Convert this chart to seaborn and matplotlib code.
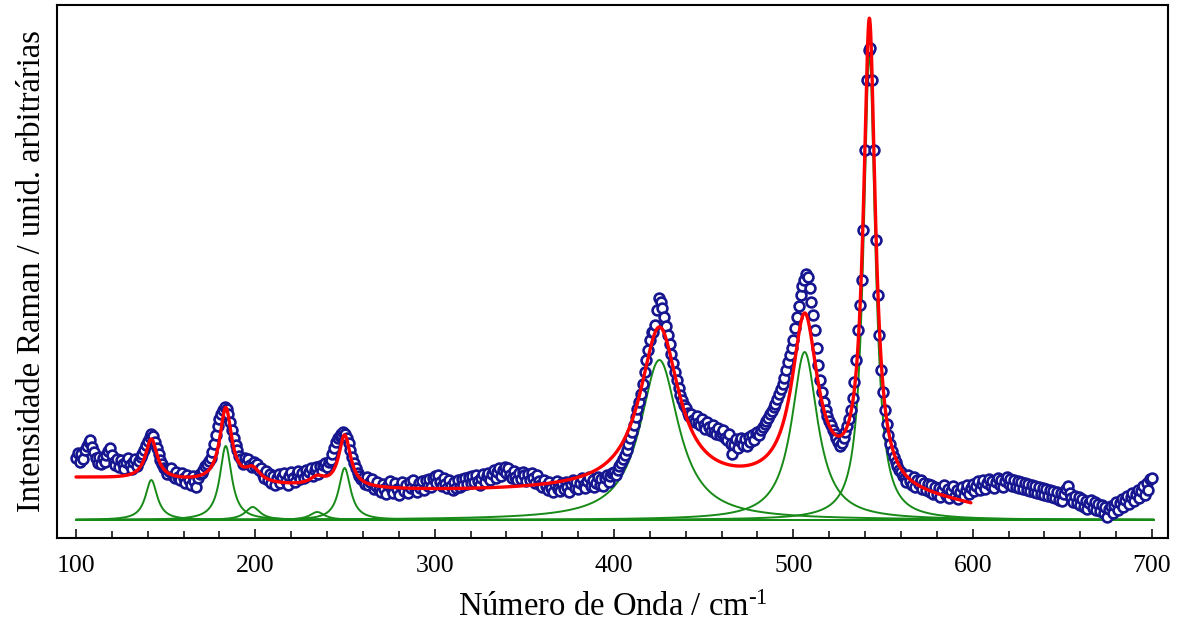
import numpy as np
import pandas as pd
import matplotlib
matplotlib.use("Agg")
import matplotlib.pyplot as plt
import seaborn as sns
from matplotlib.ticker import MultipleLocator

# ---- measured Raman spectrum (1 cm-1 steps, arbitrary units) ----
intensity_100s = [
    62, 67, 58, 66, 61, 70, 74, 78, 80, 73,
    68, 62, 57, 63, 56, 62, 58, 65, 69, 72,
    65, 58, 55, 61, 53, 60, 56, 51, 58, 62,
    55, 51, 58, 61, 54, 59, 63, 66, 70, 75,
    79, 83, 86, 84, 78, 72, 66, 60, 56, 52,
    50, 46, 49, 52, 44, 42, 48, 43, 40, 47,
    42, 37, 45, 40, 35, 44, 39, 33, 42, 46,
    47, 50, 54, 56, 59, 62, 68, 76, 85, 94,
    101, 106, 110, 113, 111, 106, 98, 90, 82, 75,
    70, 64, 61, 56, 62, 57, 61, 55, 53, 58,
]
intensity_200s = [
    54, 56, 50, 52, 45, 42, 49, 40, 46, 37,
    44, 35, 42, 46, 37, 43, 47, 39, 35, 44,
    48, 42, 38, 46, 49, 41, 47, 42, 50, 44,
    48, 52, 44, 50, 53, 46, 54, 49, 55, 57,
    53, 58, 60, 66, 72, 78, 82, 84, 86, 88,
    86, 82, 77, 70, 63, 57, 52, 47, 44, 41,
    42, 36, 43, 35, 38, 41, 31, 34, 38, 30,
    28, 36, 31, 26, 35, 39, 30, 27, 37, 31,
    25, 34, 38, 29, 35, 27, 38, 32, 40, 31,
    28, 37, 32, 39, 30, 40, 34, 41, 33, 42,
]
intensity_300s = [
    44, 37, 45, 38, 34, 42, 36, 32, 40, 34,
    30, 38, 32, 40, 33, 41, 35, 42, 36, 43,
    37, 44, 38, 45, 39, 35, 42, 46, 38, 44,
    47, 40, 46, 50, 42, 48, 52, 44, 50, 53,
    47, 52, 45, 42, 49, 43, 40, 47, 41, 48,
    45, 39, 46, 40, 47, 42, 37, 45, 39, 35,
    33, 40, 34, 30, 38, 32, 28, 36, 39, 31,
    29, 37, 31, 38, 33, 28, 36, 40, 32, 38,
    31, 37, 42, 35, 32, 39, 43, 34, 40, 33,
    37, 43, 35, 41, 34, 42, 45, 38, 44, 47,
]
intensity_400s = [
    48, 45, 50, 54, 57, 61, 65, 70, 76, 82,
    88, 95, 103, 111, 118, 126, 136, 148, 160, 170,
    180, 188, 188, 195, 210, 222, 218, 212, 203, 194,
    185, 176, 166, 157, 148, 140, 132, 125, 120, 115,
    112, 107, 104, 106, 100, 98, 104, 97, 95, 101,
    95, 91, 98, 93, 89, 95, 88, 86, 92, 85,
    87, 90, 82, 80, 86, 76, 66, 75, 81, 72,
    79, 82, 75, 81, 74, 83, 78, 85, 80, 87,
    88, 85, 90, 93, 96, 99, 102, 106, 109, 113,
    116, 121, 126, 131, 136, 142, 150, 158, 165, 172,
]
intensity_500s = [
    180, 192, 203, 214, 225, 234, 240, 246, 243, 232,
    218, 205, 190, 172, 155, 140, 128, 118, 110, 104,
    99, 95, 90, 86, 82, 78, 74, 77, 82, 88,
    94, 101, 110, 122, 138, 160, 190, 215, 240, 290,
    370, 440, 470, 472, 440, 370, 280, 225, 185, 150,
    128, 110, 96, 85, 76, 69, 63, 58, 54, 50,
    48, 44, 42, 38, 45, 39, 35, 43, 33, 40,
    36, 40, 31, 37, 30, 36, 28, 35, 26, 33,
    26, 32, 23, 30, 35, 25, 31, 22, 29, 34,
    24, 30, 21, 28, 33, 24, 30, 35, 26, 32,
]
intensity_600s = [
    36, 29, 34, 39, 30, 36, 40, 31, 37, 41,
    34, 39, 32, 38, 42, 35, 40, 33, 39, 43,
    36, 41, 34, 40, 33, 39, 32, 38, 31, 37,
    30, 36, 29, 35, 28, 34, 27, 33, 26, 32,
    25, 31, 24, 30, 23, 29, 22, 28, 20, 27,
    19, 26, 31, 34, 27, 22, 18, 24, 17, 23,
    15, 21, 13, 19, 11, 17, 20, 12, 18, 10,
    16, 9, 15, 7, 13, 3, 11, 14, 7, 15,
    18, 10, 17, 21, 13, 20, 24, 16, 23, 27,
    19, 26, 30, 22, 29, 34, 25, 37, 30, 41,
    42,
]
segment_starts = [100, 200, 300, 400, 500, 600]

# ---- fitted Lorentzian components ----
peak_centers = [142.0, 183.5, 198.5, 234.5, 249.8, 425.3, 506.3, 542.4]
peak_heights = [40, 74, 13, 8, 52, 160, 168, 465]
peak_fwhm = [8.0, 8.0, 10.0, 10.0, 8.0, 26.0, 17.5, 8.0]

# ---- fitted background (anchor values) ----
baseline_x = [100, 150, 200, 250, 300, 350, 400, 450, 500, 550, 600]
baseline_y = [42, 39, 35, 30, 29, 29, 30, 31, 29, 25, 12]

# ---------------------------------------------------------------
segments = [intensity_100s, intensity_200s, intensity_300s,
            intensity_400s, intensity_500s, intensity_600s]
wn = np.concatenate([np.arange(s, s + len(seg)) for s, seg in zip(segment_starts, segments)])
inten = np.concatenate([np.array(seg, dtype=float) for seg in segments])
spec = pd.DataFrame({"wn": wn, "I": inten})

def lorentz(x, c, h, w):
    return h / (1.0 + (2.0 * (x - c) / w) ** 2)

sns.set_theme(style="white")
plt.rcParams["font.family"] = ["Liberation Serif", "DejaVu Serif"]
plt.rcParams["mathtext.fontset"] = "custom"
plt.rcParams["mathtext.rm"] = "Liberation Serif"
plt.rcParams["mathtext.it"] = "Liberation Serif:italic"

fig = plt.figure(figsize=(11.79, 6.27), dpi=100)
ax = fig.add_axes([57 / 1179, 1 - 538 / 627, (1168 - 57) / 1179, (538 - 5) / 627])

green = "#178a17"
comp_grid = np.linspace(100, 701, 4000)
for c, h, w in zip(peak_centers, peak_heights, peak_fwhm):
    cdf = pd.DataFrame({"x": comp_grid, "y": lorentz(comp_grid, c, h, w)})
    sns.lineplot(data=cdf, x="x", y="y", color=green, linewidth=1.4,
                 estimator=None, sort=False, ax=ax, zorder=2)

sns.scatterplot(data=spec, x="wn", y="I", marker="o", s=50,
                facecolor="white", edgecolor="#161690", linewidth=1.9,
                ax=ax, zorder=3)

fit_grid = np.linspace(100, 599, 4000)
bx = np.array(baseline_x, dtype=float)
coef = np.polyfit((bx - 350) / 250, baseline_y, 5)
fit = np.polyval(coef, (fit_grid - 350) / 250)
for c, h, w in zip(peak_centers, peak_heights, peak_fwhm):
    fit = fit + lorentz(fit_grid, c, h, w)
fdf = pd.DataFrame({"x": fit_grid, "y": fit})
sns.lineplot(data=fdf, x="x", y="y", color="#ff0000", linewidth=2.4,
             estimator=None, sort=False, ax=ax, zorder=4)

ax.set_xlim(89.4, 708.9)
ax.set_ylim(-18, 515)
ax.set_xticks([100, 200, 300, 400, 500, 600, 700])
ax.xaxis.set_minor_locator(MultipleLocator(20))
ax.set_yticks([])
ax.tick_params(axis="x", which="major", direction="in", length=6.5, width=1.1,
               labelsize=18.5, pad=12.5, bottom=True, top=False, colors="black")
ax.tick_params(axis="x", which="minor", direction="in", length=5, width=1.1,
               bottom=True, top=False, colors="black")
for sp in ax.spines.values():
    sp.set_color("black")
    sp.set_linewidth(1.5)
    sp.set_visible(True)

ax.set_xlabel("Número de Onda / cm$^{\u20101}$", fontsize=23.5, labelpad=11, color="black")
ax.set_ylabel("Intensidade Raman / unid. arbitrárias", fontsize=23.5, labelpad=7, color="black")

fig.savefig("out.png", dpi=100, facecolor="white")
